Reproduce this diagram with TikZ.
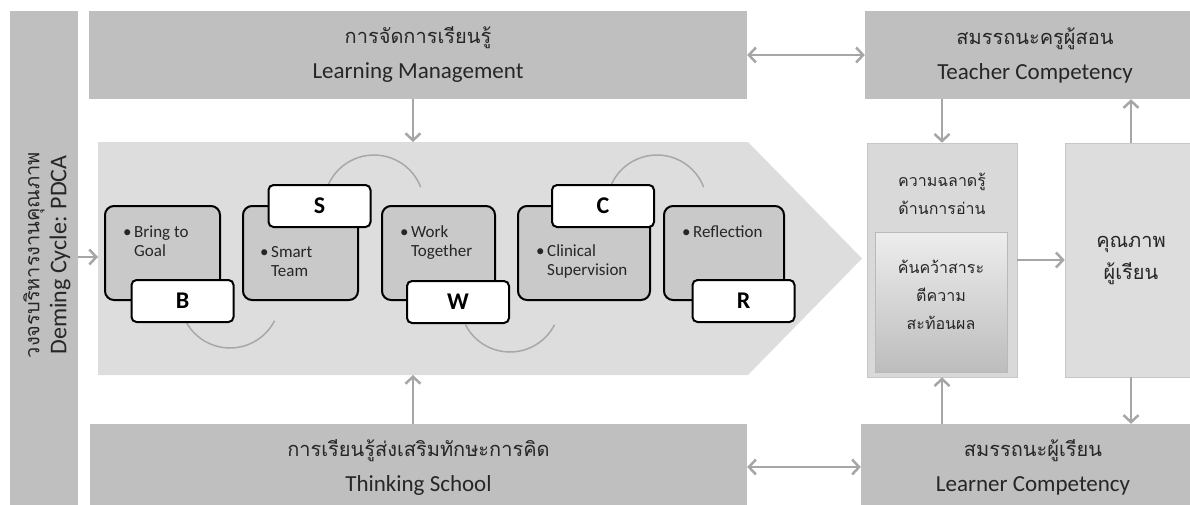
\documentclass[tikz,border=0pt]{standalone}
\usepackage{fontspec}
\setmainfont{Carlito}
\newfontfamily\thai[Script=Thai]{Loma}
\usetikzlibrary{arrows.meta}
\definecolor{outerg}{gray}{0.75}
\definecolor{chevg}{gray}{0.865}
\definecolor{rdg}{gray}{0.85}
\definecolor{innerg}{gray}{0.79}
\definecolor{arrg}{gray}{0.65}
\definecolor{arcg}{gray}{0.66}
\definecolor{edgeg}{gray}{0.78}
\definecolor{txtg}{gray}{0.15}
\newcommand\itm[2]{\begin{tabular}[t]{@{}l@{}l@{}}\makebox[11pt][l]{\textbullet}&#1\\&#2\end{tabular}}
\tikzset{
  gbox/.style={fill=outerg, draw=none, inner sep=0pt, text=txtg, align=center},
  cbox/.style={fill=innerg, draw=black, line width=2pt, rounded corners=9pt, inner sep=0pt},
  letbox/.style={fill=white, draw=black, line width=2pt, rounded corners=5pt, inner sep=0pt,
     minimum width=102, minimum height=42, font=\fontsize{24}{28}\selectfont\bfseries},
  itemtxt/.style={inner sep=0pt, anchor=base west, text=txtg, font=\fontsize{17}{19}\selectfont},
  ar/.style={draw=arrg, line width=2.5pt, -{Straight Barb[length=7pt,width=15pt]}},
  dar/.style={draw=arrg, line width=2.5pt, {Straight Barb[length=7pt,width=15pt]}-{Straight Barb[length=7pt,width=15pt]}},
  arcl/.style={draw=arcg, line width=1.5pt},
  twol/.style={font=\fontsize{23}{35}\selectfont}
}
\begin{document}
\begin{tikzpicture}[x=1pt,y=-1pt]
\useasboundingbox (0,0) rectangle (1190,504);
% left bar
\node[gbox, minimum width=68, minimum height=504] (bar) at (44,263) {};
\node[rotate=90, text=txtg, align=center, font=\fontsize{24}{27}\selectfont] (bartxt) at (47,255)
  {{\thai\fontsize{20}{27}\selectfont วงจรบริหารงานคุณภาพ}\\Deming Cycle: PDCA};
% top / bottom boxes
\node[gbox, twol, minimum width=658, minimum height=88] (lm) at (418,55)
  {{\thai\fontsize{20}{35}\selectfont การจัดการเรียนรู้}\\Learning Management};
\node[gbox, twol, minimum width=340, minimum height=88] (tc) at (1035,55)
  {{\thai\fontsize{20}{35}\selectfont สมรรถนะครูผู้สอน}\\Teacher Competency};
\node[gbox, twol, minimum width=657, minimum height=86] (ts) at (418.5,467)
  {{\thai\fontsize{20}{35}\selectfont การเรียนรู้ส่งเสริมทักษะการคิด}\\Thinking School};
\node[gbox, twol, minimum width=344, minimum height=86] (lc) at (1033,467)
  {{\thai\fontsize{20}{35}\selectfont สมรรถนะผู้เรียน}\\Learner Competency};
% chevron
\path[fill=chevg] (98,142) -- (748,142) -- (862,258.5) -- (748,375) -- (98,375) -- cycle;
\coordinate (chevtop) at (413,142);
\coordinate (chevbot) at (413,375);
\coordinate (chevleft) at (98,257);
% arcs
\draw[arcl] (230,298) ++(207:50pt) arc[start angle=207, end angle=333, radius=50pt];
\draw[arcl] (374,205) ++(159:50pt) arc[start angle=159, end angle=21, radius=50pt];
\draw[arcl] (510,302) ++(207:50pt) arc[start angle=207, end angle=333, radius=50pt];
\draw[arcl] (657,205) ++(159:50pt) arc[start angle=159, end angle=21, radius=50pt];
% content boxes
\node[cbox, minimum width=115, minimum height=94] (b1) at (162.5,253) {};
\node[cbox, minimum width=115, minimum height=94] (b2) at (300.5,253) {};
\node[cbox, minimum width=113, minimum height=94] (b3) at (438.5,253) {};
\node[cbox, minimum width=132, minimum height=94] (b4) at (584,253) {};
\node[cbox, minimum width=120, minimum height=94] (b5) at (724,253) {};
\node[itemtxt] (t1) at (123,237) {\itm{Bring to}{Goal}};
\node[itemtxt] (t2) at (260,257) {\itm{Smart}{Team}};
\node[itemtxt] (t3) at (400,237) {\itm{Work}{Together}};
\node[itemtxt] (t4) at (536,256) {\itm{Clinical}{Supervision}};
\node[itemtxt] (t5) at (682,237) {\itm{Reflection}{}};
% letter boxes
\node[letbox] (lB) at (182.5,301) {B};
\node[letbox] (lS) at (319.5,206) {S};
\node[letbox] (lW) at (458,302) {W};
\node[letbox] (lC) at (603,206) {C};
\node[letbox] (lR) at (743.5,301) {R};
% right column
\node[fill=rdg, draw=edgeg, line width=0.6pt, minimum width=150, minimum height=234, inner sep=0pt] (rd) at (942,260) {};
\node[text=txtg, align=center, font=\thai\fontsize{16}{28}\selectfont] (rdt) at (942,194) {ความฉลาดรู้\\ด้านการอ่าน};
\node[top color=gray!14, bottom color=gray!52, draw=gray!55, line width=0.6pt, minimum width=132, minimum height=140, inner sep=0pt] (rin) at (941,302) {};
\node[text=txtg, align=center, font=\thai\fontsize{16}{28}\selectfont] (rint) at (941,295) {ค้นคว้าสาระ\\ตีความ\\สะท้อนผล};
\node[fill=chevg, draw=edgeg, line width=0.6pt, minimum width=132, minimum height=234, inner sep=0pt, text=txtg, align=center, font=\thai\fontsize{20}{32}\selectfont] (q) at (1131,260) {คุณภาพ\\ผู้เรียน};
% arrows
\draw[dar] (lm.east) -- (tc.west);
\draw[dar] (ts.east) -- (lc.west);
\draw[ar] (lm.south -| chevtop) -- (chevtop);
\draw[ar] (ts.north -| chevbot) -- (chevbot);
\draw[ar] (bar.east |- chevleft) -- (chevleft);
\draw[ar] (tc.south -| rd.north) -- (rd.north);
\draw[ar] (q.north) -- (q.north |- tc.south);
\draw[ar] (rd.east) -- (q.west);
\draw[ar] (lc.north -| rd.south) -- (rd.south);
\draw[ar] (q.south) -- (q.south |- lc.north);
\end{tikzpicture}
\end{document}
